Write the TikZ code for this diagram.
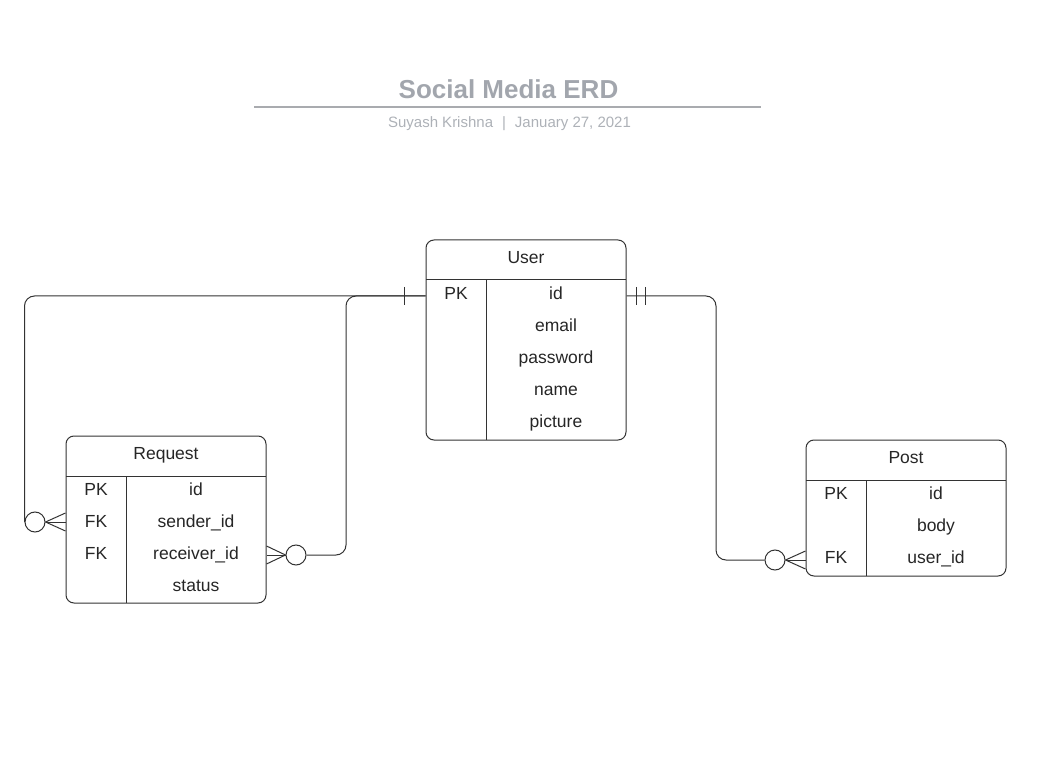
\documentclass[tikz,border=0pt]{standalone}
\usepackage{fontspec}
\setmainfont{Liberation Sans}
\usetikzlibrary{positioning,calc}
\definecolor{inkgray}{HTML}{333333}
\definecolor{titlegray}{HTML}{A2A6AD}
\definecolor{subgray}{HTML}{ADB1B7}
\definecolor{rulegray}{HTML}{A9ABAF}

\begin{document}
\begin{tikzpicture}[
    x=1pt, y=-1pt,
    table/.style={rectangle, rounded corners=8pt, draw=inkgray, line width=1pt, minimum width=200pt, inner sep=0pt},
    cell/.style={font=\fontsize{17.5}{20}\selectfont, text=black!85, text height=13pt, text depth=0pt, inner sep=0pt},
    link/.style={draw=inkgray, line width=1pt},
    relation/.style={link, rounded corners=10pt},
    optional/.style={circle, draw=inkgray, line width=1pt, fill=white, minimum size=20pt, inner sep=0pt}
]
    \useasboundingbox (0,0) rectangle (1058,759);

    % Title block at the top
    \node[font=\bfseries\fontsize{26}{30}\selectfont, text=titlegray, anchor=base] (title) at (508.5,99) {Social Media ERD};
    \draw[rulegray, line width=2pt] (254,107) -- (761,107);
    \node[font=\fontsize{15}{18}\selectfont, text=subgray, anchor=base] (byline) at (509.5,128) {Suyash Krishna\hspace{0.6em}|\hspace{0.6em}January 27, 2021};

    % User table in the middle
    \node[table, minimum height=200pt] (user) at (526,340) {};
    \draw[link] (426,280) -- (626,280);
    \draw[link] (486,280) -- (486,440);
    \node[cell] (user-name) at (526,257) {User};
    \node[cell] (user-pk) at (456,293) {PK};
    \node[cell] (user-id) at (556,293) {id};
    \node[cell] (user-email) at (556,325) {email};
    \node[cell] (user-password) at (556,357) {password};
    \node[cell] (user-fullname) at (556,389) {name};
    \node[cell] (user-picture) at (556,421) {picture};

    % Request table on the left
    \node[table, minimum height=167pt] (request) at (166,519.5) {};
    \draw[link] (66,476) -- (266,476);
    \draw[link] (126,476) -- (126,603);
    \node[cell] (request-name) at (166,453) {Request};
    \node[cell] (request-pk) at (96,489) {PK};
    \node[cell] (request-id) at (196,489) {id};
    \node[cell] (request-fk1) at (96,521) {FK};
    \node[cell] (request-sender) at (196,521) {sender\_id};
    \node[cell] (request-fk2) at (96,553) {FK};
    \node[cell] (request-receiver) at (196,553) {receiver\_id};
    \node[cell] (request-status) at (196,585) {status};

    % Post table on the right
    \node[table, minimum height=136pt] (post) at (906,508) {};
    \draw[link] (806,480) -- (1006,480);
    \draw[link] (866,480) -- (866,576);
    \node[cell] (post-name) at (906,457) {Post};
    \node[cell] (post-pk) at (836,493) {PK};
    \node[cell] (post-id) at (936,493) {id};
    \node[cell] (post-body) at (936,525) {body};
    \node[cell] (post-fk) at (836,557) {FK};
    \node[cell] (post-user) at (936,557) {user\_id};

    % Zero-or-many ends
    \node[optional] (sender-o) at (35,522) {};
    \node[optional] (receiver-o) at (296,555) {};
    \node[optional] (author-o) at (775,560) {};

    % Relationship lines out of the user key
    \coordinate (user-left) at ([yshift=-3pt]user.west |- user-pk);
    \coordinate (user-right) at ([yshift=-3pt]user.east |- user-pk);
    \coordinate (request-turn) at (346,0);
    \coordinate (post-turn) at (716,0);

    \draw[relation] (user-left) -| (sender-o.west);
    \draw[relation] (user-left) -| (request-turn |- receiver-o) -- (receiver-o.east);
    \draw[relation] (user-right) -| (post-turn |- author-o) -- (author-o.west);

    % One / one-and-only-one marks
    \draw[link] ([xshift=-21pt]user-left) ++(0,-9) -- ++(0,18);
    \draw[link] ([xshift=10pt]user-right) ++(0,-9) -- ++(0,18);
    \draw[link] ([xshift=19pt]user-right) ++(0,-9) -- ++(0,18);

    % Crow's feet
    \foreach \d in {-9,0,9} {
        \draw[link] (sender-o.east) -- ([yshift=\d]request.west |- sender-o);
        \draw[link] (receiver-o.west) -- ([yshift=\d]request.east |- receiver-o);
        \draw[link] (author-o.east) -- ([yshift=\d]post.west |- author-o);
    }
\end{tikzpicture}
\end{document}
